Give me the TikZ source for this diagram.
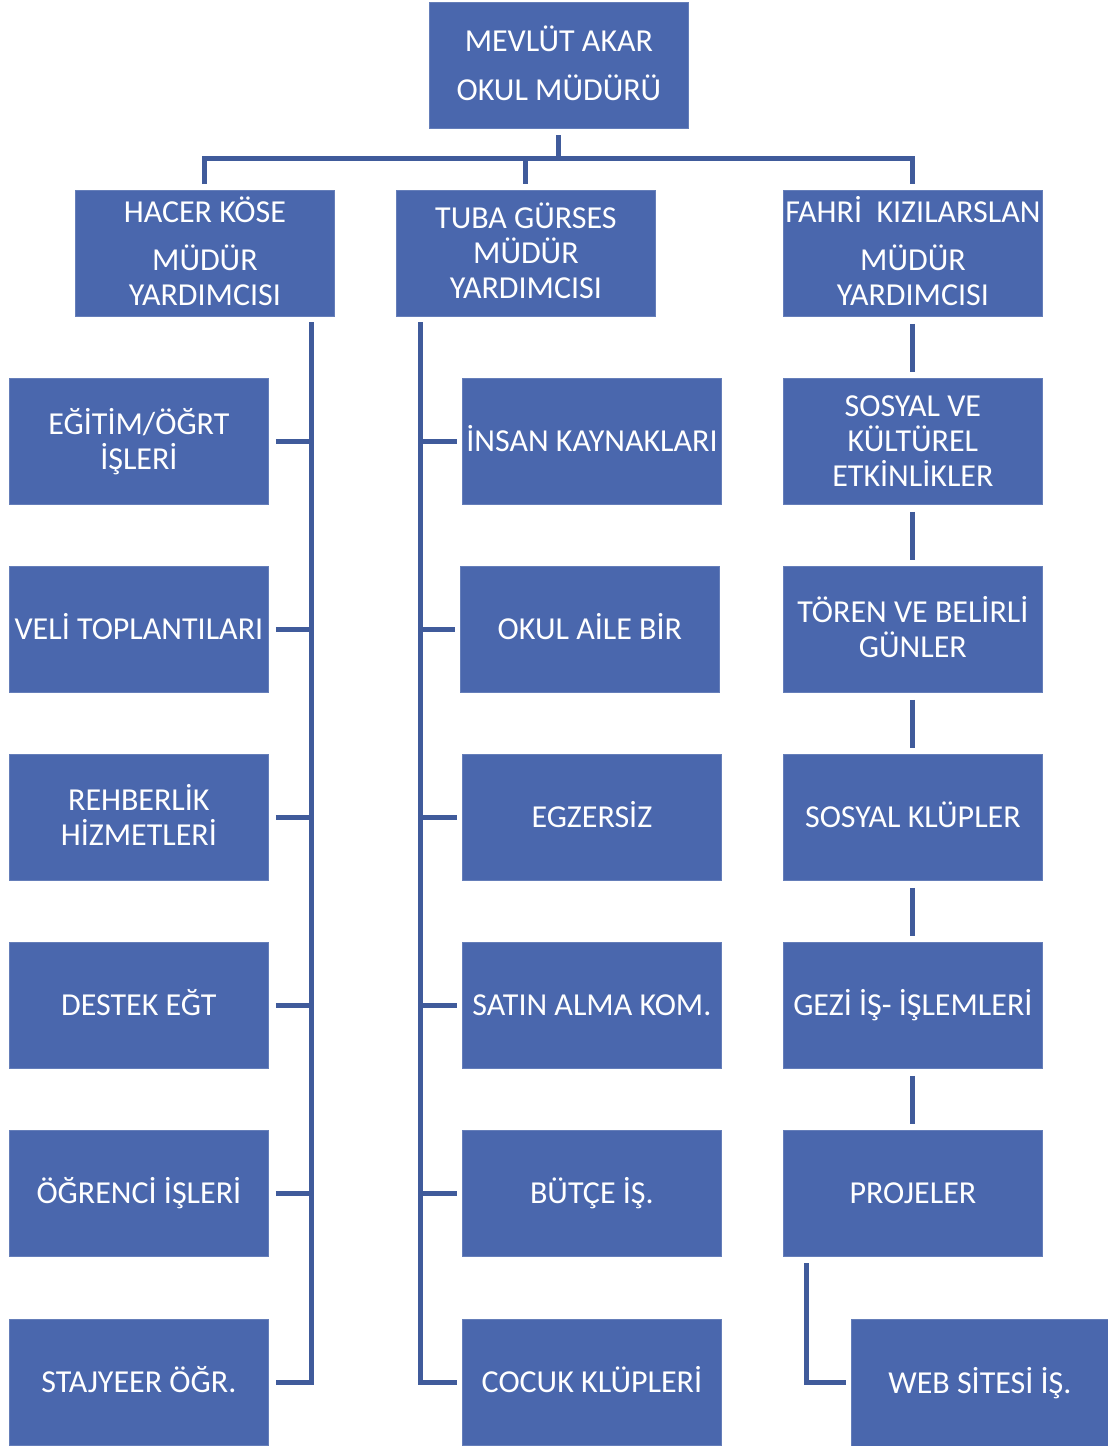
\documentclass[tikz,border=0pt]{standalone}
\usepackage{fontspec}
\setmainfont{Carlito}
\usetikzlibrary{calc}
\definecolor{boxblue}{RGB}{74,103,173}
\definecolor{lineblue}{RGB}{64,91,155}
\newcommand{\st}{\rule[-6.9pt]{0pt}{34.4pt}}
\begin{document}
\begin{tikzpicture}[x=1pt,y=-1pt,
  box/.style={fill=boxblue,draw=boxblue!85!white,line width=0.8pt,anchor=north west,
    minimum width=259pt,minimum height=126pt,inner sep=0pt,align=center,text=white,
    font=\fontsize{32}{35}\selectfont},
  conn/.style={draw=lineblue,line width=5pt}]
\path[use as bounding box] (0,0) rectangle (1108,1446);
% top
\node[box] (top) at (429,2) {\st MEVLÜT AKAR\\[14pt]\st OKUL MÜDÜRÜ};
\node[box] (h1) at (75,190) {\st HACER KÖSE\\[13pt]\st MÜDÜR\\\st YARDIMCISI};
\node[box] (h2) at (396,190) {\st TUBA GÜRSES\\\st MÜDÜR\\\st YARDIMCISI};
\node[box] (h3) at (783,190) {\st FAHRİ\ \ KIZILARSLAN\\[13pt]\st MÜDÜR\\\st YARDIMCISI};
% left column
\node[box] (l1) at (9,378) {\st EĞİTİM/ÖĞRT\\\st İŞLERİ};
\node[box] (l2) at (9,566) {\st VELİ TOPLANTILARI};
\node[box] (l3) at (9,754) {\st REHBERLİK\\\st HİZMETLERİ};
\node[box] (l4) at (9,942) {\st DESTEK EĞT};
\node[box] (l5) at (9,1130) {\st ÖĞRENCİ İŞLERİ};
\node[box] (l6) at (9,1319) {\st STAJYEER ÖĞR.};
% middle column
\node[box] (m1) at (462,378) {\st İNSAN KAYNAKLARI};
\node[box] (m2) at (460,566) {\st OKUL AİLE BİR};
\node[box] (m3) at (462,754) {\st EGZERSİZ};
\node[box] (m4) at (462,942) {\st SATIN ALMA KOM.};
\node[box] (m5) at (462,1130) {\st BÜTÇE İŞ.};
\node[box] (m6) at (462,1319) {\st COCUK KLÜPLERİ};
% right column
\node[box] (r1) at (783,378) {\st SOSYAL VE\\\st KÜLTÜREL\\\st ETKİNLİKLER};
\node[box] (r2) at (783,566) {\st TÖREN VE BELİRLİ\\\st GÜNLER};
\node[box] (r3) at (783,754) {\st SOSYAL KLÜPLER};
\node[box] (r4) at (783,942) {\st GEZİ İŞ- İŞLEMLERİ};
\node[box] (r5) at (783,1130) {\st PROJELER};
\node[box,minimum width=257pt,minimum height=127pt] (web) at (851,1319) {\st WEB SİTESİ İŞ.};
% top connectors
\coordinate (bus) at (558,158);
\draw[conn] ($(bus)+(0,-23)$) -- (bus);
\draw[conn] ($(h1.north)+(0,-6)$) -- (h1.north |- bus) -- (h3.north |- bus) -- ($(h3.north)+(0,-6)$);
\draw[conn] (h2.north |- bus) -- ($(h2.north)+(0,-6)$);
% left spine
\coordinate (spL) at (311,322);
\draw[conn] (spL) -- (l6.east -| spL) -- ($(l6.east)+(7,0)$);
\foreach \n in {l1,l2,l3,l4,l5}
  \draw[conn] ($(\n.east)+(7,0)$) -- (\n.east -| spL);
% middle spine
\coordinate (spM) at (420,322);
\draw[conn] (spM) -- (m6.west -| spM) -- ($(m6.west)+(-5,0)$);
\foreach \n in {m1,m2,m3,m4,m5}
  \draw[conn] (\n.west -| spM) -- ($(\n.west)+(-5,0)$);
% right chain
\draw[conn] ($(h3.south)+(0,7)$) -- ($(r1.north)+(0,-6)$);
\draw[conn] ($(r1.south)+(0,7)$) -- ($(r2.north)+(0,-6)$);
\draw[conn] ($(r2.south)+(0,7)$) -- ($(r3.north)+(0,-6)$);
\draw[conn] ($(r3.south)+(0,7)$) -- ($(r4.north)+(0,-6)$);
\draw[conn] ($(r4.south)+(0,7)$) -- ($(r5.north)+(0,-6)$);
% web
\coordinate (wtop) at (806,1263);
\draw[conn] (wtop) -- (web.west -| wtop) -- ($(web.west)+(-5,0)$);
\end{tikzpicture}
\end{document}
